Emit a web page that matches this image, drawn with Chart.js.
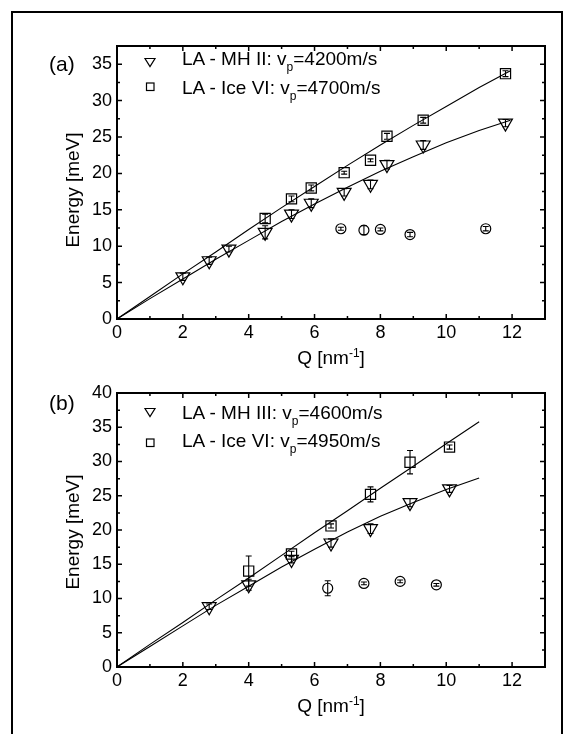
<!DOCTYPE html>
<html>
<head>
<meta charset="utf-8">
<script src="https://cdn.jsdelivr.net/npm/chart.js@4.4.1/dist/chart.umd.min.js"></script>
<style>
  html, body { margin: 0; padding: 0; background: #fff; }
  body { width: 574px; height: 734px; position: relative; overflow: hidden;
         font-family: "Liberation Sans", Arial, sans-serif; color: #000; }
  .frame { position: absolute; left: 11px; top: 11px; width: 552px; height: 800px;
           border: 2px solid #000; box-sizing: border-box; }
  .wrap { position: absolute; left: 0; width: 574px; }
  #wrapA { top: 0; height: 370px; }
  #wrapB { top: 370px; height: 364px; }
  .txt { position: absolute; white-space: nowrap; transform: translate(0, -50%); }
  .panel { font-size: 21px; line-height: 21px; }
  .leg { font-size: 19px; line-height: 19px; }
  .leg sub { font-size: 12px; line-height: 0; vertical-align: -6px; }
  .xt { font-size: 19px; line-height: 19px; transform: translate(-50%, -50%); }
  .xt sup { font-size: 12px; line-height: 0; vertical-align: 7px; }
  .yt { font-size: 19px; line-height: 19px; transform: translate(-50%, -50%) rotate(-90deg); }
  svg.mk { position: absolute; overflow: visible; }
</style>
</head>
<body>
<div class="frame"></div>
<div class="wrap" id="wrapA"><canvas id="chartA"></canvas></div>
<div class="wrap" id="wrapB"><canvas id="chartB"></canvas></div>

<div class="txt panel" style="left:49px; top:63px;">(a)</div>
<div class="txt leg" style="left:182px; top:58px;">LA - MH II: v<sub>p</sub>=4200m/s</div>
<div class="txt leg" style="left:182px; top:87px;">LA - Ice VI: v<sub>p</sub>=4700m/s</div>
<div class="txt xt" style="left:331px; top:357px;">Q [nm<sup>-1</sup>]</div>
<div class="txt yt" style="left:72px; top:190px;">Energy [meV]</div>

<div class="txt panel" style="left:49px; top:402px;">(b)</div>
<div class="txt leg" style="left:182px; top:412px;">LA - MH III: v<sub>p</sub>=4600m/s</div>
<div class="txt leg" style="left:182px; top:440px;">LA - Ice VI: v<sub>p</sub>=4950m/s</div>
<div class="txt xt" style="left:331px; top:705px;">Q [nm<sup>-1</sup>]</div>
<div class="txt yt" style="left:72px; top:532px;">Energy [meV]</div>

<svg class="mk" style="left:0;top:0" width="574" height="734">
  <polygon points="145,58.5 155,58.5 150,66.5" fill="none" stroke="#000" stroke-width="1.2"/>
  <rect x="146.5" y="83" width="7.5" height="7.5" fill="none" stroke="#000" stroke-width="1.2"/>
  <polygon points="145,408.5 155,408.5 150,416.5" fill="none" stroke="#000" stroke-width="1.2"/>
  <rect x="146.5" y="439" width="7.5" height="7.5" fill="none" stroke="#000" stroke-width="1.2"/>
</svg>

<script>
// ---- panel (a) ----
const qTriA = [2.0, 2.8, 3.4, 4.5, 5.3, 5.9, 6.9, 7.7, 8.2, 9.3, 11.8];
const eTriA = [5.8, 8.0, 9.6, 11.9, 14.4, 15.9, 17.4, 18.5, 21.2, 23.9, 26.9];
const errTriA = [0.5, 0.5, 0.4, 0.9, 0.6, 0.6, 0.5, 0.6, 0.6, 0.6, 0.5];

const qSqA = [4.5, 5.3, 5.9, 6.9, 7.7, 8.2, 9.3, 11.8];
const eSqA = [13.8, 16.5, 18.0, 20.1, 21.8, 25.1, 27.3, 33.7];
const errSqA = [0.6, 0.4, 0.4, 0.2, 0.2, 0.4, 0.4, 0.4];

const qCirA = [6.8, 7.5, 8.0, 8.9, 11.2];
const eCirA = [12.4, 12.2, 12.3, 11.6, 12.4];
const errCirA = [0.2, 0.6, 0.2, 0.3, 0.3];

const qFitA = [0, 1, 2, 3, 4, 5, 6, 7, 8, 9, 10, 11, 11.95];
const eFitMhA = [0, 2.8, 5.5, 8.2, 10.8, 13.4, 15.8, 18.1, 20.3, 22.3, 24.2, 25.9, 27.3];
const eFitIceA = [0, 3.1, 6.2, 9.2, 12.3, 15.3, 18.2, 21.1, 23.9, 26.6, 29.2, 31.8, 34.1];

// ---- panel (b) ----
const qTriB = [2.8, 4.0, 5.3, 6.5, 7.7, 8.9, 10.1];
const eTriB = [8.8, 12.0, 15.7, 18.1, 20.2, 24.0, 26.0];
const errTriB = [0.4, 0.8, 0.5, 0.6, 0.7, 0.6, 0.5];

const qSqB = [4.0, 5.3, 6.5, 7.7, 8.9, 10.1];
const eSqB = [14.0, 16.5, 20.6, 25.2, 29.9, 32.1];
const errSqB = [2.2, 0.4, 0.3, 1.1, 1.7, 0.3];

const qCirB = [6.4, 7.5, 8.6, 9.7];
const eCirB = [11.5, 12.2, 12.5, 12.0];
const errCirB = [1.1, 0.2, 0.2, 0.2];

const qFitB = [0, 1, 2, 3, 4, 5, 6, 7, 8, 9, 10, 11];
const eFitMhB = [0, 3.0, 6.0, 9.0, 11.8, 14.6, 17.2, 19.7, 22.0, 24.0, 25.9, 27.6];
const eFitIceB = [0, 3.3, 6.5, 9.8, 13.0, 16.3, 19.6, 22.8, 26.1, 29.3, 32.6, 35.8];

// ---- ticks ----
const xTicks = [0, 2, 4, 6, 8, 10, 12];
const xMinor = [1, 3, 5, 7, 9, 11, 13];
const yTicksA = [0, 5, 10, 15, 20, 25, 30, 35];
const yMinorA = [2.5, 7.5, 12.5, 17.5, 22.5, 27.5, 32.5, 37.5];
const yTicksB = [0, 5, 10, 15, 20, 25, 30, 35, 40];
const yMinorB = [2.5, 7.5, 12.5, 17.5, 22.5, 27.5, 32.5, 37.5];

Chart.defaults.font.family = '"Liberation Sans", Arial, sans-serif';
Chart.defaults.font.size = 18;
Chart.defaults.color = '#000';

const pts = (xs, ys) => xs.map((x, i) => ({ x, y: ys[i] }));

// frame box + inward ticks on all four sides
const boxPlugin = {
    id: 'box',
    afterDraw(chart) {
        const { ctx, chartArea: a, scales: { x, y } } = chart;
        const o = chart.options.plugins.box;
        ctx.save();
        ctx.strokeStyle = '#000';
        ctx.lineWidth = 1.5;
        ctx.beginPath();
        const vt = (vals, len) => vals.forEach(v => {
            const p = x.getPixelForValue(v);
            ctx.moveTo(p, a.bottom); ctx.lineTo(p, a.bottom - len);
            ctx.moveTo(p, a.top); ctx.lineTo(p, a.top + len);
        });
        const ht = (vals, len) => vals.forEach(v => {
            const p = y.getPixelForValue(v);
            ctx.moveTo(a.left, p); ctx.lineTo(a.left + len, p);
            ctx.moveTo(a.right, p); ctx.lineTo(a.right - len, p);
        });
        vt(xTicks, 5); vt(xMinor, 3);
        ht(o.yMajor, 5); ht(o.yMinor, 3);
        ctx.stroke();
        ctx.lineWidth = 2;
        ctx.strokeRect(a.left, a.top, a.right - a.left, a.bottom - a.top);
        ctx.restore();
    }
};

// vertical error bars with caps
const errPlugin = {
    id: 'errbars',
    afterDatasetsDraw(chart) {
        const { ctx, scales: { y } } = chart;
        ctx.save();
        ctx.strokeStyle = '#000';
        ctx.lineWidth = 1.1;
        chart.data.datasets.forEach((ds, i) => {
            if (!ds.errs) return;
            const meta = chart.getDatasetMeta(i);
            meta.data.forEach((el, j) => {
                const v = ds.data[j].y, e = ds.errs[j];
                const y1 = y.getPixelForValue(v - e), y2 = y.getPixelForValue(v + e);
                ctx.beginPath();
                ctx.moveTo(el.x, y1); ctx.lineTo(el.x, y2);
                ctx.moveTo(el.x - 3, y1); ctx.lineTo(el.x + 3, y1);
                ctx.moveTo(el.x - 3, y2); ctx.lineTo(el.x + 3, y2);
                ctx.stroke();
            });
        });
        ctx.restore();
    }
};

function makeChart(id, cfg) {
    const common = { borderColor: '#000', backgroundColor: 'rgba(0,0,0,0)', borderWidth: 1.2 };
    return new Chart(document.getElementById(id), {
        type: 'scatter',
        data: {
            datasets: [
                { ...common, borderWidth: 1.1, data: pts(cfg.qFit, cfg.fitMh), showLine: true, pointRadius: 0 },
                { ...common, borderWidth: 1.1, data: pts(cfg.qFit, cfg.fitIce), showLine: true, pointRadius: 0 },
                { ...common, data: pts(cfg.qTri, cfg.eTri), errs: cfg.errTri,
                  pointStyle: 'triangle', rotation: 180, pointRadius: 8 },
                { ...common, data: pts(cfg.qSq, cfg.eSq), errs: cfg.errSq,
                  pointStyle: 'rect', pointRadius: 7.2 },
                { ...common, data: pts(cfg.qCir, cfg.eCir), errs: cfg.errCir,
                  pointStyle: 'circle', pointRadius: 5 }
            ]
        },
        options: {
            responsive: true,
            maintainAspectRatio: false,
            animation: false,
            layout: { padding: { left: 0, right: 29, top: cfg.padTop, bottom: 0 } },
            plugins: {
                legend: { display: false },
                tooltip: { enabled: false },
                box: { yMajor: cfg.yTicks, yMinor: cfg.yMinor }
            },
            scales: {
                x: {
                    min: 0, max: 13,
                    grid: { display: false, drawTicks: false },
                    border: { display: false },
                    ticks: { padding: 3, maxRotation: 0 },
                    afterBuildTicks: s => { s.ticks = xTicks.map(v => ({ value: v })); },
                    afterFit: s => { s.height = cfg.xHeight; }
                },
                y: {
                    min: 0, max: cfg.yMax,
                    grid: { display: false, drawTicks: false },
                    border: { display: false },
                    ticks: { padding: 5 },
                    afterBuildTicks: s => { s.ticks = cfg.yTicks.map(v => ({ value: v })); },
                    afterFit: s => { s.width = 117; }
                }
            }
        },
        plugins: [boxPlugin, errPlugin]
    });
}

makeChart('chartA', {
    qFit: qFitA, fitMh: eFitMhA, fitIce: eFitIceA,
    qTri: qTriA, eTri: eTriA, errTri: errTriA,
    qSq: qSqA, eSq: eSqA, errSq: errSqA,
    qCir: qCirA, eCir: eCirA, errCir: errCirA,
    yMax: 37.5, yTicks: yTicksA, yMinor: yMinorA,
    padTop: 46, xHeight: 51
});

makeChart('chartB', {
    qFit: qFitB, fitMh: eFitMhB, fitIce: eFitIceB,
    qTri: qTriB, eTri: eTriB, errTri: errTriB,
    qSq: qSqB, eSq: eSqB, errSq: errSqB,
    qCir: qCirB, eCir: eCirB, errCir: errCirB,
    yMax: 40, yTicks: yTicksB, yMinor: yMinorB,
    padTop: 23, xHeight: 67
});
</script>
</body>
</html>
